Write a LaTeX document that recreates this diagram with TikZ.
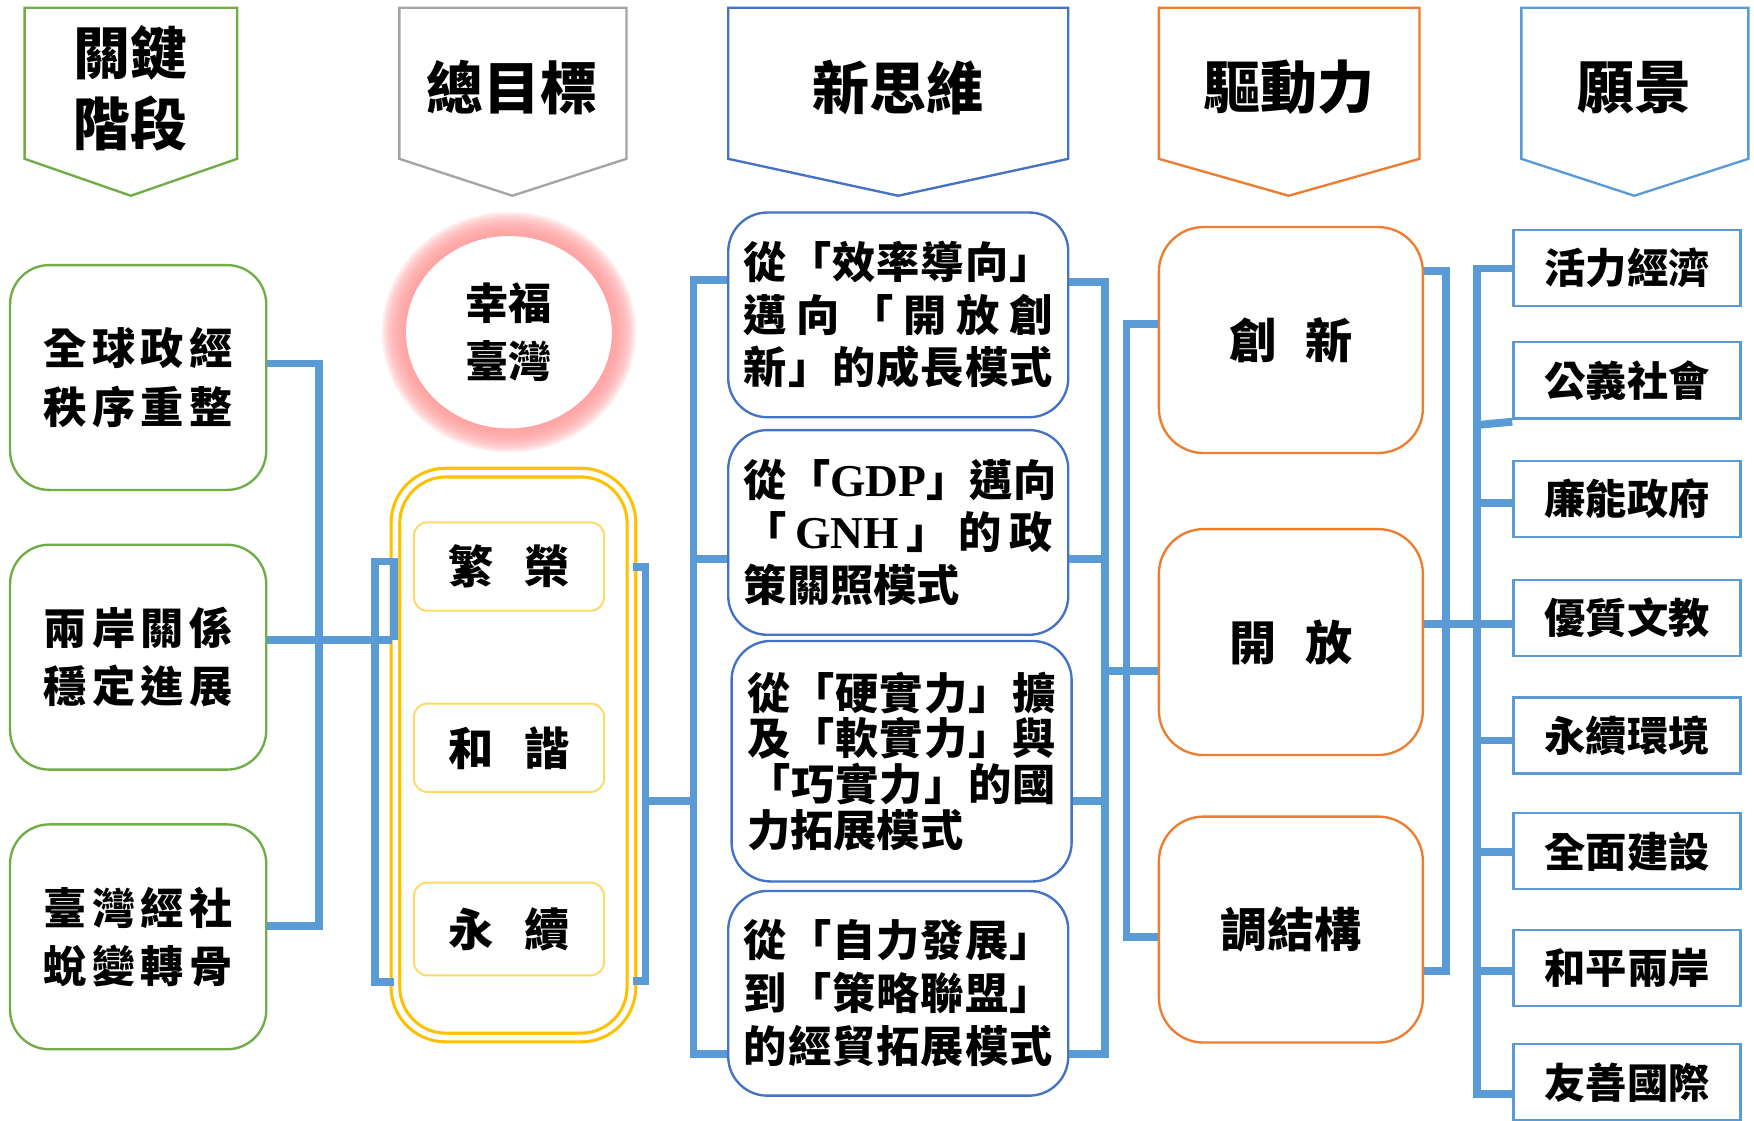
\documentclass[tikz,border=0pt]{standalone}
\usepackage{fontspec}
\setmainfont{Liberation Serif}
\newfontfamily\cjk{Noto Sans CJK TC}
\newfontfamily\latf{Liberation Serif}
\usetikzlibrary{positioning}
\usetikzlibrary{shapes.geometric}
\definecolor{kgreen}{HTML}{70AD47}
\definecolor{kgray}{HTML}{A5A5A5}
\definecolor{kblue}{HTML}{4472C4}
\definecolor{korange}{HTML}{ED7D31}
\definecolor{lnblue}{HTML}{5B9BD5}
\definecolor{kgold}{HTML}{FFC000}
\definecolor{lgold}{HTML}{FFD966}
\definecolor{glowpink}{HTML}{FF9999}
% spread the characters of a line
\def\spr#1{\sprA#1\relax}
\def\sprA#1#2\relax{#1\ifx\relax#2\relax\else\hfil\sprA#2\relax\fi}
\newcommand\sline[2]{\makebox[#1][s]{\spr{#2}}}
\newcommand\jl[1]{\sline{27.6mm}{#1}}
\newcommand\lline[1]{\makebox[27.6mm][l]{#1}}
\newcommand\abbr[1]{{\latf\bfseries\fontsize{11.6}{13.4}\selectfont #1}}
\tikzset{
  hdr/.style={line width=0.6pt, fill=white},
  hdrtext/.style={font=\cjk\bfseries\fontsize{14.5}{18}\selectfont, align=center},
  stagebox/.style={draw=kgreen, line width=0.6pt, rounded corners=3.5mm, minimum width=22.9mm, minimum height=20.1mm, align=center, font=\cjk\bfseries\fontsize{11}{14.8}\selectfont},
  goalitem/.style={draw=lgold, line width=0.5pt, rounded corners=1.2mm, minimum width=17mm, minimum height=7.9mm, font=\cjk\bfseries\fontsize{11.5}{13}\selectfont},
  thinkbox/.style={draw=kblue, line width=0.6pt, rounded corners=3.5mm, minimum width=30.4mm, minimum height=18.3mm, align=center, font=\cjk\bfseries\fontsize{11}{13.4}\selectfont},
  drivebox/.style={draw=korange, line width=0.6pt, rounded corners=4mm, minimum width=23.6mm, minimum height=20.2mm, font=\cjk\bfseries\fontsize{12}{14}\selectfont},
  visbox/.style={draw=lnblue, line width=0.6pt, minimum width=20.3mm, minimum height=6.8mm, font=\cjk\bfseries\fontsize{10.5}{12}\selectfont},
  link/.style={draw=lnblue, line width=2pt},
}
\begin{document}
\begin{tikzpicture}[x=0.1mm,y=-0.1mm]
\useasboundingbox (0,0) rectangle (1568,1002);

% headers
\draw[hdr, draw=kgreen] (22,7) -- (212,7) -- (212,142) -- (117,175) -- (22,142) -- cycle;
\draw[hdr, draw=kgray] (357,7) -- (560,7) -- (560,142) -- (458,175) -- (357,142) -- cycle;
\draw[hdr, draw=kblue] (651,7) -- (955,7) -- (955,142) -- (803,175) -- (651,142) -- cycle;
\draw[hdr, draw=korange] (1036,7) -- (1269,7) -- (1269,142) -- (1152,175) -- (1036,142) -- cycle;
\draw[hdr, draw=lnblue] (1360,7) -- (1563,7) -- (1563,142) -- (1461,175) -- (1360,142) -- cycle;
\node[hdrtext] (hk) at (117,79) {關鍵\\階段};
\node[hdrtext] (hg) at (458,78) {總目標};
\node[hdrtext] (hn) at (803,78) {新思維};
\node[hdrtext] (hd) at (1152,78) {驅動力};
\node[hdrtext] (hv) at (1461,78) {願景};

% key stages
\node[stagebox] (st1) at (123.5,337.5) {\sline{17mm}{全球政經}\\\sline{17mm}{秩序重整}};
\node[stagebox] (st2) at (123.5,587.5) {\sline{17mm}{兩岸關係}\\\sline{17mm}{穩定進展}};
\node[stagebox] (st3) at (123.5,837.5) {\sline{17mm}{臺灣經社}\\\sline{17mm}{蛻變轉骨}};

% overall goal
\foreach \g in {1,...,12}
  \fill[glowpink, opacity=0.17] (455,297) ellipse [x radius={92+1.8*\g}, y radius={86+1.8*\g}];
\node[ellipse, fill=white, minimum width=18.4mm, minimum height=17.2mm, align=center,
  font=\cjk\bfseries\fontsize{11}{14.8}\selectfont] (goal) at (455,297) {幸福\\臺灣};
\node[draw=kgold, double=white, double distance=1.4pt, line width=0.8pt, rounded corners=4.5mm,
  minimum width=21.1mm, minimum height=50.5mm] (goals) at (459,675) {};
\node[goalitem] (g1) at (455,506.5) {\sline{10.8mm}{繁榮}};
\node[goalitem] (g2) at (455,668.5) {\sline{10.8mm}{和諧}};
\node[goalitem, minimum height=8.3mm] (g3) at (455,830.5) {\sline{10.8mm}{永續}};

% new thinking
\node[thinkbox] (nt1) at (803,281.5) {\jl{從「效率導向」}\\\jl{邁向「開放創}\\\jl{新」的成長模式}};
\node[thinkbox] (nt2) at (803,476) {\jl{從「{{\abbr{GDP}}}」邁向}\\\jl{「{{\abbr{GNH}}}」的政}\\\lline{策關照模式}};
\node[thinkbox, minimum height=21.5mm, font=\cjk\bfseries\fontsize{11}{11.6}\selectfont] (nt3) at (806,680.5)
  {\jl{從「硬實力」擴}\\\jl{及「軟實力」與}\\\jl{「巧實力」的國}\\\lline{力拓展模式}};
\node[thinkbox] (nt4) at (803,888) {\jl{從「自力發展」}\\\jl{到「策略聯盟」}\\\jl{的經貿拓展模式}};

% driving forces
\node[drivebox] (dr1) at (1154,304) {\sline{11mm}{創新}};
\node[drivebox] (dr2) at (1154,574) {\sline{11mm}{開放}};
\node[drivebox] (dr3) at (1154,831) {調結構};

% vision
\foreach \t/\y [count=\i] in {活力經濟/239.5, 公義社會/340, 廉能政府/446, 優質文教/552.5,
    永續環境/657.5, 全面建設/761, 和平兩岸/865.5, 友善國際/967.5}
  \node[visbox] (vi\i) at (1454.5,\y) {\t};

% links
\coordinate (lbt) at (285,325);
\coordinate (lbb) at (285,828);
\coordinate (gin) at (350,572);
\coordinate (glt) at (335,502);
\coordinate (glb) at (335,878);
\coordinate (grt) at (577,507);
\coordinate (grb) at (577,877);
\coordinate (nlt) at (620,250);
\coordinate (nlb) at (620,942);
\coordinate (nrt) at (988,252);
\coordinate (nrb) at (988,942);
\coordinate (dlt) at (1007,290);
\coordinate (dlb) at (1007,838);
\coordinate (drt) at (1293,242);
\coordinate (drb) at (1293,868);
\coordinate (vbt) at (1320,240);
\coordinate (vbb) at (1320,978);

\draw[link] (st1.east |- lbt) -- (lbt) -- (lbb) -- (st3.east |- lbb);
\draw[link] (st2.east |- gin) -- (gin);
\draw[link] (gin -| goals.west) -- (glt -| goals.west) -- (glt) -- (glb) -- (glb -| goals.west);
\draw[link] (goals.east |- grt) -- (grt) -- (grb) -- (goals.east |- grb);
\draw[link] (grt |- 0,716) -- (nlt |- 0,716);
\draw[link] (nt1.west |- nlt) -- (nlt) -- (nlb) -- (nt4.west |- nlb);
\draw[link] (nlt |- 0,500) -- (nt2.west |- 0,500);
\draw[link] (nt1.east |- nrt) -- (nrt) -- (nrb) -- (nt4.east |- nrb);
\draw[link] (nt2.east |- 0,500) -- (nrt |- 0,500);
\draw[link] (nt3.east |- 0,716) -- (nrt |- 0,716);
\draw[link] (nrt |- 0,600) -- (dr2.west |- 0,600);
\draw[link] (dr1.west |- dlt) -- (dlt) -- (dlb) -- (dr3.west |- dlb);
\draw[link] (dr1.east |- drt) -- (drt) -- (drb) -- (dr3.east |- drb);
\draw[link] (dr2.east |- 0,558) -- (vi4.west |- 0,558);
\draw[link] (vi1.west |- vbt) -- (vbt) -- (vbb) -- (vi8.west |- vbb);
\draw[link] (vbt |- 0,380) -- (vi2.west |- 0,377);
\foreach \i/\y in {3/450, 5/662, 6/762, 7/868}
  \draw[link] (vbt |- 0,\y) -- (vi\i.west |- 0,\y);
\end{tikzpicture}
\end{document}
